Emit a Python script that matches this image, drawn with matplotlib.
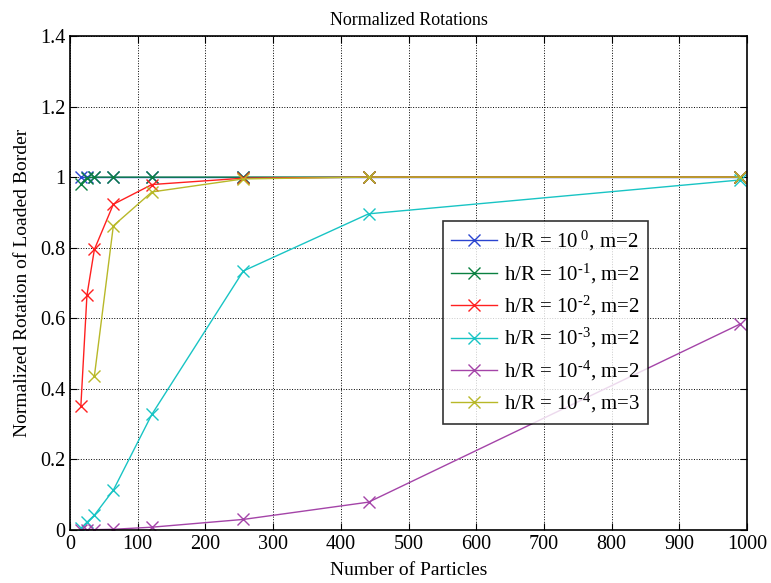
"""
Normalized rotation of the loaded border vs. number of particles.
"""

import matplotlib
matplotlib.use("Agg")
import matplotlib.pyplot as plt

# ---------------------------------------------------------------------------
# Data
# ---------------------------------------------------------------------------
n_particles = [16, 25, 36, 64, 121, 256, 441, 990]
n_particles_m3 = [36, 64, 121, 256, 441, 990]

rot_e0 = [1.0, 1.0, 1.0, 1.0, 1.0, 1.0, 1.0, 1.0]
rot_e1 = [0.98, 0.998, 1.0, 1.0, 1.0, 1.0, 1.0, 1.0]
rot_e2 = [0.35, 0.665, 0.795, 0.923, 0.979, 0.997, 1.0, 1.0]
rot_e3 = [0.005, 0.022, 0.042, 0.113, 0.328, 0.734, 0.896, 0.992]
rot_e4 = [0.0, 0.001, 0.001, 0.002, 0.008, 0.03, 0.079, 0.584]
rot_e4_m3 = [0.436, 0.862, 0.958, 0.995, 1.0, 1.0]

labels = [
    r"h/R = 10$^{\ 0}$, m=2",
    r"h/R = 10$^{\text{-1}}$, m=2",
    r"h/R = 10$^{\text{-2}}$, m=2",
    r"h/R = 10$^{\text{-3}}$, m=2",
    r"h/R = 10$^{\text{-4}}$, m=2",
    r"h/R = 10$^{\text{-4}}$, m=3",
]
colors = ["#2a44d0", "#0a8040", "#ff2020", "#18c4c4", "#a444a8", "#b8b828"]

x_ticks = list(range(0, 1001, 100))
y_ticks = [0, 0.2, 0.4, 0.6, 0.8, 1, 1.2, 1.4]

# ---------------------------------------------------------------------------
# Figure
# ---------------------------------------------------------------------------
plt.rcParams["font.family"] = ["Liberation Serif", "DejaVu Serif"]
plt.rcParams["mathtext.fontset"] = "custom"
plt.rcParams["mathtext.rm"] = "Liberation Serif"
plt.rcParams["mathtext.it"] = "Liberation Serif:italic"

fig = plt.figure(figsize=(7.71, 5.83), dpi=100)
ax = fig.add_axes([0.0908, 0.0909, 0.8782, 0.8474])

series = [
    (n_particles, rot_e0),
    (n_particles, rot_e1),
    (n_particles, rot_e2),
    (n_particles, rot_e3),
    (n_particles, rot_e4),
    (n_particles_m3, rot_e4_m3),
]
for (xs, ys), lab, col in zip(series, labels, colors):
    ax.plot(xs, ys, color=col, marker="x", markersize=9, markeredgewidth=1.0,
            linewidth=1.0, label=lab)

ax.set_xlim(0, 1000)
ax.set_ylim(0, 1.4)
ax.set_xticks(x_ticks)
ax.set_yticks(y_ticks)
ax.set_yticklabels(["0", "0.2", "0.4", "0.6", "0.8", "1", "1.2", "1.4"])
ax.grid(True, color="black", linestyle=":", linewidth=0.7)
ax.tick_params(direction="in", length=5, labelsize=14.5, top=True, right=True,
               labeltop=False, labelright=False)
for sp in ax.spines.values():
    sp.set_linewidth(1.2)

ax.set_xlabel("Number of Particles", fontsize=14, labelpad=6)
ax.set_ylabel("Normalized Rotation of Loaded Border", fontsize=14, labelpad=6)
ax.set_title("Normalized Rotations", fontsize=13, pad=8)

leg = ax.legend(loc="upper left", bbox_to_anchor=(0.551, 0.626), fontsize=15,
                frameon=True, fancybox=False, edgecolor="black",
                handlelength=2.2, handletextpad=0.3, labelspacing=0.4,
                borderpad=0.4, borderaxespad=0)
leg.get_frame().set_linewidth(1.2)

plt.savefig("out.png", dpi=100)
plt.close()
